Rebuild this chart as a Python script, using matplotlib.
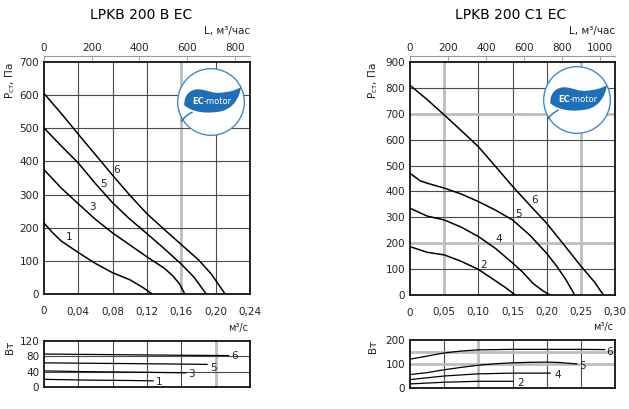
import matplotlib
matplotlib.use('Agg')
import matplotlib.pyplot as plt
from matplotlib.patches import Circle, PathPatch
from matplotlib.path import Path

plt.rcParams['font.family'] = ['DejaVu Sans']

# ---------- данные: LPKB 200 B EC ----------
b_title = 'LPKB 200 B EC'
b_xticks = [0, 0.04, 0.08, 0.12, 0.16, 0.20, 0.24]
b_xlabels = ['0', '0,04', '0,08', '0,12', '0,16', '0,20', '0,24']
b_yticks = [0, 100, 200, 300, 400, 500, 600, 700]
b_top_ticks = [0, 200, 400, 600, 800]
b_pw_yticks = [0, 40, 80, 120]

b1_q = [0, 0.01, 0.02, 0.04, 0.06, 0.08, 0.10, 0.115, 0.126]
b1_p = [214, 185, 160, 125, 92, 64, 43, 20, 0]
b3_q = [0, 0.02, 0.04, 0.06, 0.08, 0.10, 0.12, 0.14, 0.15, 0.158, 0.164]
b3_p = [375, 320, 272, 225, 184, 148, 112, 78, 55, 30, 0]
b5_q = [0, 0.02, 0.04, 0.06, 0.08, 0.10, 0.12, 0.14, 0.16, 0.175, 0.189]
b5_p = [501, 447, 395, 333, 275, 226, 182, 137, 90, 50, 0]
b6_q = [0, 0.02, 0.04, 0.06, 0.08, 0.10, 0.12, 0.14, 0.16, 0.18, 0.195, 0.211]
b6_p = [605, 545, 482, 420, 358, 298, 242, 195, 149, 103, 60, 0]

b1_wq = [0, 0.05, 0.10, 0.127]
b1_w = [20, 18, 17, 16]
b3_wq = [0, 0.05, 0.10, 0.165]
b3_w = [42, 40, 39, 37]
b5_wq = [0, 0.05, 0.10, 0.15, 0.19]
b5_w = [63, 62, 61, 60, 59]
b6_wq = [0, 0.05, 0.10, 0.15, 0.215]
b6_w = [86, 85, 84, 83, 82]

# ---------- данные: LPKB 200 C1 EC ----------
c_title = 'LPKB 200 C1 EC'
c_xticks = [0, 0.05, 0.10, 0.15, 0.20, 0.25, 0.30]
c_xlabels = ['0', '0,05', '0,10', '0,15', '0,20', '0,25', '0,30']
c_yticks = [0, 100, 200, 300, 400, 500, 600, 700, 800, 900]
c_top_ticks = [0, 200, 400, 600, 800, 1000]
c_pw_yticks = [0, 100, 200]

c2_q = [0, 0.025, 0.05, 0.075, 0.10, 0.125, 0.14, 0.154]
c2_p = [187, 165, 155, 130, 99, 55, 28, 0]
c4_q = [0, 0.025, 0.05, 0.075, 0.10, 0.125, 0.15, 0.165, 0.18, 0.195, 0.205]
c4_p = [335, 305, 290, 262, 226, 180, 124, 88, 45, 15, 0]
c5_q = [0, 0.015, 0.025, 0.05, 0.075, 0.10, 0.125, 0.15, 0.175, 0.20, 0.215, 0.228, 0.241]
c5_p = [470, 441, 432, 413, 390, 361, 328, 290, 232, 161, 110, 60, 0]
c6_q = [0, 0.025, 0.05, 0.075, 0.10, 0.125, 0.15, 0.175, 0.20, 0.225, 0.25, 0.27, 0.283]
c6_p = [810, 755, 696, 635, 573, 497, 420, 348, 277, 195, 112, 50, 0]

c2_wq = [0, 0.05, 0.10, 0.15]
c2_w = [17, 24, 28, 28]
c4_wq = [0, 0.05, 0.10, 0.15, 0.205]
c4_w = [35, 50, 59, 62, 62]
c5_wq = [0, 0.025, 0.05, 0.075, 0.10, 0.125, 0.15, 0.175, 0.20, 0.22, 0.244]
c5_w = [56, 64, 76, 86, 95, 101, 105, 107, 108, 106, 100]
c6_wq = [0, 0.025, 0.05, 0.075, 0.10, 0.15, 0.20, 0.25, 0.285]
c6_w = [120, 133, 146, 154, 159, 161, 161, 161, 160]

DARK = '#4a4a4a'
GRAY = '#bdbdbd'
TXT = '#222222'


def draw_grid(ax, xs, ys, gray_x, gray_y):
    for x in xs:
        if x in gray_x:
            ax.axvline(x, color=GRAY, lw=2.0, zorder=1)
        else:
            ax.axvline(x, color=DARK, lw=0.8, zorder=1)
    for y in ys:
        if y in gray_y:
            ax.axhline(y, color=GRAY, lw=2.0, zorder=1)
        else:
            ax.axhline(y, color=DARK, lw=0.8, zorder=1)


def style_box(ax):
    for s in ax.spines.values():
        s.set_linewidth(1.3)
        s.set_color('#111111')
    ax.tick_params(length=0, labelsize=7.5, labelcolor=TXT)


def draw_logo(rect):
    lg = fig.add_axes(rect)
    lg.set_xlim(-1.05, 1.05)
    lg.set_ylim(-1.05, 1.05)
    lg.set_aspect('equal')
    lg.axis('off')
    lg.add_patch(Circle((0, 0), 1.0, facecolor='white', edgecolor='#3d8ad0', lw=1.0))
    verts = [(-0.8, -0.1),
             (-0.82, 0.2), (-0.62, 0.4), (-0.35, 0.38),
             (-0.1, 0.36), (0.05, 0.25), (0.3, 0.28),
             (0.55, 0.3), (0.75, 0.35), (0.9, 0.45),
             (0.85, 0.1), (0.65, -0.2), (0.3, -0.28),
             (-0.1, -0.36), (-0.55, -0.32), (-0.8, -0.1),
             (-0.8, -0.1)]
    codes = [Path.MOVETO] + [Path.CURVE4] * 15 + [Path.CLOSEPOLY]
    lg.add_patch(PathPatch(Path(verts, codes), facecolor='#1f6fb8', edgecolor='none'))
    tail = Path([(-0.55, -0.3), (-0.72, -0.38), (-0.82, -0.48), (-0.9, -0.6)],
                [Path.MOVETO, Path.CURVE4, Path.CURVE4, Path.CURVE4])
    lg.add_patch(PathPatch(tail, facecolor='none', edgecolor='#1f6fb8', lw=1.0))
    lg.text(-0.22, 0.0, 'EC', color='white', fontsize=6, fontweight='bold',
            ha='right', va='center')
    lg.text(-0.22, 0.0, '-motor', color='white', fontsize=6, ha='left', va='center')


fig = plt.figure(figsize=(6.29, 4.09), dpi=100)
W, H = 629, 409


def px_rect(x0, y0, x1, y1):
    return [x0 / W, (H - y1) / H, (x1 - x0) / W, (y1 - y0) / H]


panels = [
    dict(title=b_title, tx=141, main=px_rect(44, 62, 250, 294), low=px_rect(44, 341, 250, 387),
         xticks=b_xticks, xlabels=b_xlabels, yticks=b_yticks, top=b_top_ticks,
         pw_yticks=b_pw_yticks,
         curves=[(b1_q, b1_p, '1', 0.029, 172), (b3_q, b3_p, '3', 0.056, 262),
                 (b5_q, b5_p, '5', 0.069, 331), (b6_q, b6_p, '6', 0.084, 373)],
         power=[(b1_wq, b1_w, '1', 0.134, 14), (b3_wq, b3_w, '3', 0.172, 34),
                (b5_wq, b5_w, '5', 0.197, 50), (b6_wq, b6_w, '6', 0.222, 82)],
         gx=[0.16], gy=[], pgx=[0.20], pgy=[], pw_grid_y=[40, 80],
         logo=px_rect(176, 67, 246, 137), ylx=-0.165),
    dict(title=c_title, tx=511, main=px_rect(410, 62, 615, 295), low=px_rect(410, 340, 615, 388),
         xticks=c_xticks, xlabels=c_xlabels, yticks=c_yticks, top=c_top_ticks,
         pw_yticks=c_pw_yticks,
         curves=[(c2_q, c2_p, '2', 0.107, 116), (c4_q, c4_p, '4', 0.130, 217),
                 (c5_q, c5_p, '5', 0.159, 312), (c6_q, c6_p, '6', 0.182, 367)],
         power=[(c2_wq, c2_w, '2', 0.162, 22), (c4_wq, c4_w, '4', 0.216, 56),
                (c5_wq, c5_w, '5', 0.252, 90), (c6_wq, c6_w, '6', 0.292, 152)],
         gx=[0.05, 0.25], gy=[200, 700], pgx=[0.10], pgy=[100, 150], pw_grid_y=[100, 150],
         logo=px_rect(542, 65, 612, 135), ylx=-0.18),
]

for p in panels:
    # основной график давления
    ax = fig.add_axes(p['main'])
    xmax = p['xticks'][-1]
    ymax = p['yticks'][-1]
    ax.set_xlim(0, xmax)
    ax.set_ylim(0, ymax)
    draw_grid(ax, p['xticks'][1:-1], p['yticks'][1:-1], p['gx'], p['gy'])
    for q, pr, lab, lx, ly in p['curves']:
        ax.plot(q, pr, color='black', lw=1.1, zorder=3)
        ax.text(lx, ly, lab, fontsize=7.5, color=TXT, ha='center', va='center', zorder=4)
    ax.set_xticks(p['xticks'])
    ax.set_xticklabels(p['xlabels'])
    ax.set_yticks(p['yticks'])
    style_box(ax)
    ax.tick_params(axis='x', pad=9)
    ax.tick_params(axis='y', pad=3.5)
    ax.text(p['ylx'], 1.0, 'Р$_{\\mathrm{ст}}$, Па', transform=ax.transAxes, rotation=90,
            ha='center', va='top', fontsize=7.5, color=TXT)

    # верхняя шкала L, м³/час
    sec = ax.secondary_xaxis(1.026, functions=(lambda v: v * 3600, lambda v: v / 3600))
    sec.set_xticks(p['top'])
    sec.spines['top'].set_color('#999999')
    sec.spines['top'].set_linewidth(0.8)
    sec.tick_params(direction='in', length=3, width=0.7, color='#999999',
                    labelsize=7.5, labelcolor=TXT, pad=2)
    ax.text(1.0, 1.135, 'L, м³/час', transform=ax.transAxes, ha='right', va='center',
            fontsize=7.5, color=TXT)
    fig.text(p['tx'] / W, 1 - 15 / H, p['title'], ha='center', va='center', fontsize=10,
             color='black')

    # график мощности
    aw = fig.add_axes(p['low'])
    aw.set_xlim(0, xmax)
    aw.set_ylim(0, p['pw_yticks'][-1])
    draw_grid(aw, p['xticks'][1:-1], p['pw_grid_y'], p['pgx'], p['pgy'])
    for q, w, lab, lx, ly in p['power']:
        aw.plot(q, w, color='black', lw=0.9, zorder=3)
        aw.text(lx, ly, lab, fontsize=7.5, color=TXT, ha='center', va='center', zorder=4)
    aw.set_xticks([])
    aw.set_yticks(p['pw_yticks'])
    style_box(aw)
    aw.tick_params(axis='y', pad=3.5)
    aw.text(p['ylx'], 1.0, 'Вт', transform=aw.transAxes, rotation=90,
            ha='center', va='top', fontsize=7.5, color=TXT)
    aw.text(0.99, 1.28, 'м³/с', transform=aw.transAxes, ha='right', va='center',
            fontsize=7, color=TXT)

    draw_logo(p['logo'])

fig.savefig('out.png', dpi=100)
